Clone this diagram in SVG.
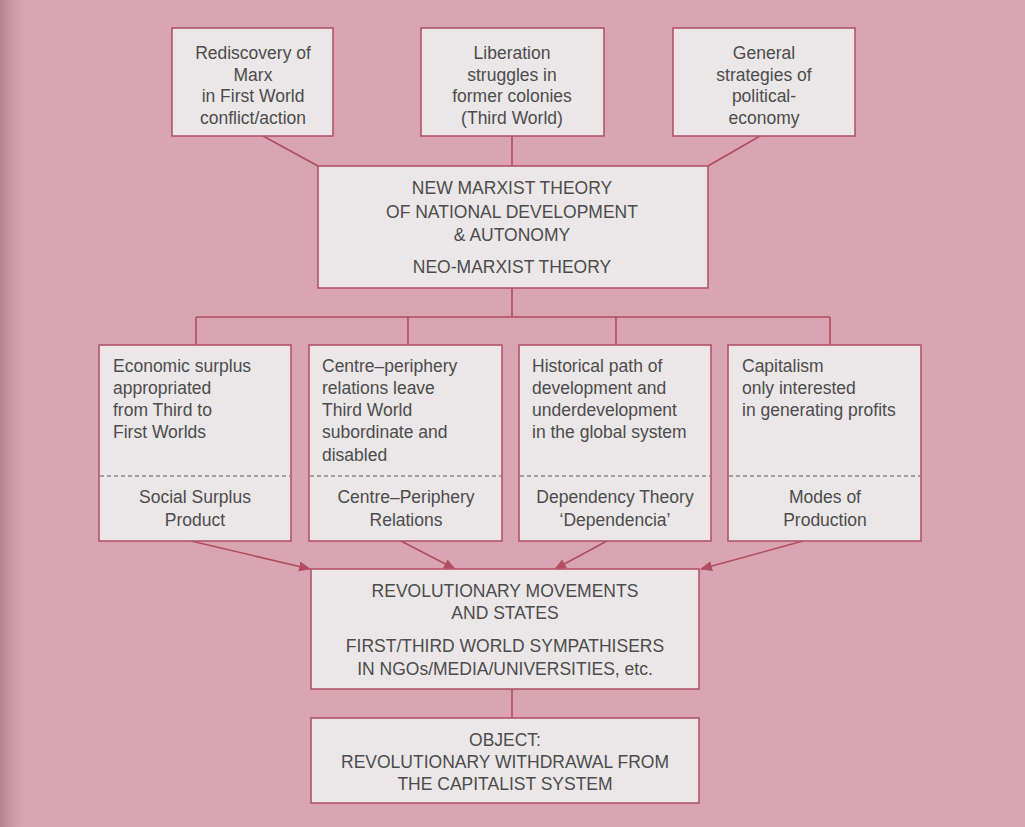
<svg xmlns="http://www.w3.org/2000/svg" width="1025" height="827" viewBox="0 0 1025 827">
<defs>
<style>
.box{fill:#ebe7e8;stroke:#b35468;stroke-width:1.6}
.con{fill:none;stroke:#b04d60;stroke-width:1.6}
.dash{stroke:#5a5a5a;stroke-width:1.2;stroke-dasharray:4 3}
text{font-family:"Liberation Sans",Arial,sans-serif;font-size:17.5px;fill:#4d4b4c}
.c{text-anchor:middle}
</style>
<linearGradient id="edge" x1="0" y1="0" x2="1" y2="0">
<stop offset="0" stop-color="#b47f90"/>
<stop offset="1" stop-color="#d8a3b1" stop-opacity="0"/>
</linearGradient>
<marker id="ah" markerWidth="12" markerHeight="10" refX="11" refY="5" orient="auto" markerUnits="userSpaceOnUse">
<path d="M0,0 L12,5 L0,10 Z" fill="#b04d60"/>
</marker>
</defs>
<rect width="1025" height="827" fill="#d9a5b3"/>
<rect width="30" height="827" fill="url(#edge)"/>

<g id="connectors">
<path class="con" d="M263,136 L318,166"/>
<path class="con" d="M512,136 L512,166"/>
<path class="con" d="M760,136 L708,166"/>
<path class="con" d="M512,288 L512,317"/>
<path class="con" d="M196,317 L830,317"/>
<path class="con" d="M196,317 L196,345"/>
<path class="con" d="M408,317 L408,345"/>
<path class="con" d="M616,317 L616,345"/>
<path class="con" d="M830,317 L830,345"/>
<path class="con" d="M191,541 L310,569" marker-end="url(#ah)"/>
<path class="con" d="M401,541 L455,569" marker-end="url(#ah)"/>
<path class="con" d="M607,541 L555,569" marker-end="url(#ah)"/>
<path class="con" d="M803,541 L701,569" marker-end="url(#ah)"/>
<path class="con" d="M512,689 L512,718"/>
</g>

<g id="rediscovery">
<rect class="box" x="172" y="28" width="161" height="108"/>
<text class="c" x="253" y="59">Rediscovery of</text>
<text class="c" x="253" y="81">Marx</text>
<text class="c" x="253" y="102">in First World</text>
<text class="c" x="253" y="124">conflict/action</text>
</g>

<g id="liberation">
<rect class="box" x="421" y="28" width="183" height="108"/>
<text class="c" x="512" y="59">Liberation</text>
<text class="c" x="512" y="81">struggles in</text>
<text class="c" x="512" y="102">former colonies</text>
<text class="c" x="512" y="124">(Third World)</text>
</g>

<g id="strategies">
<rect class="box" x="673" y="28" width="182" height="108"/>
<text class="c" x="764" y="59">General</text>
<text class="c" x="764" y="81">strategies of</text>
<text class="c" x="764" y="102">political-</text>
<text class="c" x="764" y="124">economy</text>
</g>

<g id="newmarxist">
<rect class="box" x="318" y="166" width="390" height="122"/>
<text class="c" x="512" y="194">NEW MARXIST THEORY</text>
<text class="c" x="512" y="218">OF NATIONAL DEVELOPMENT</text>
<text class="c" x="512" y="241">&amp; AUTONOMY</text>
<text class="c" x="512" y="273">NEO-MARXIST THEORY</text>
</g>

<g id="surplus">
<rect class="box" x="99" y="345" width="192" height="196"/>
<text x="113" y="372">Economic surplus</text>
<text x="113" y="394">appropriated</text>
<text x="113" y="416">from Third to</text>
<text x="113" y="438">First Worlds</text>
<line class="dash" x1="100" y1="476" x2="290" y2="476"/>
<text class="c" x="195" y="503">Social Surplus</text>
<text class="c" x="195" y="526">Product</text>
</g>

<g id="centreperiphery">
<rect class="box" x="309" y="345" width="193" height="196"/>
<text x="322" y="372">Centre–periphery</text>
<text x="322" y="394">relations leave</text>
<text x="322" y="416">Third World</text>
<text x="322" y="438">subordinate and</text>
<text x="322" y="461">disabled</text>
<line class="dash" x1="310" y1="476" x2="501" y2="476"/>
<text class="c" x="406" y="503">Centre–Periphery</text>
<text class="c" x="406" y="526">Relations</text>
</g>

<g id="dependency">
<rect class="box" x="519" y="345" width="192" height="196"/>
<text x="532" y="372">Historical path of</text>
<text x="532" y="394">development and</text>
<text x="532" y="416">underdevelopment</text>
<text x="532" y="438">in the global system</text>
<line class="dash" x1="520" y1="476" x2="710" y2="476"/>
<text class="c" x="615" y="503">Dependency Theory</text>
<text class="c" x="615" y="526">‘Dependencia’</text>
</g>

<g id="modes">
<rect class="box" x="728" y="345" width="193" height="196"/>
<text x="742" y="372">Capitalism</text>
<text x="742" y="394">only interested</text>
<text x="742" y="416">in generating profits</text>
<line class="dash" x1="729" y1="476" x2="920" y2="476"/>
<text class="c" x="825" y="503">Modes of</text>
<text class="c" x="825" y="526">Production</text>
</g>

<g id="revolutionary">
<rect class="box" x="311" y="569" width="388" height="120"/>
<text class="c" x="505" y="597">REVOLUTIONARY MOVEMENTS</text>
<text class="c" x="505" y="619">AND STATES</text>
<text class="c" x="505" y="652">FIRST/THIRD WORLD SYMPATHISERS</text>
<text class="c" x="505" y="675">IN NGOs/MEDIA/UNIVERSITIES, etc.</text>
</g>

<g id="object">
<rect class="box" x="311" y="718" width="388" height="85"/>
<text class="c" x="505" y="746">OBJECT:</text>
<text class="c" x="505" y="768">REVOLUTIONARY WITHDRAWAL FROM</text>
<text class="c" x="505" y="790">THE CAPITALIST SYSTEM</text>
</g>
</svg>
